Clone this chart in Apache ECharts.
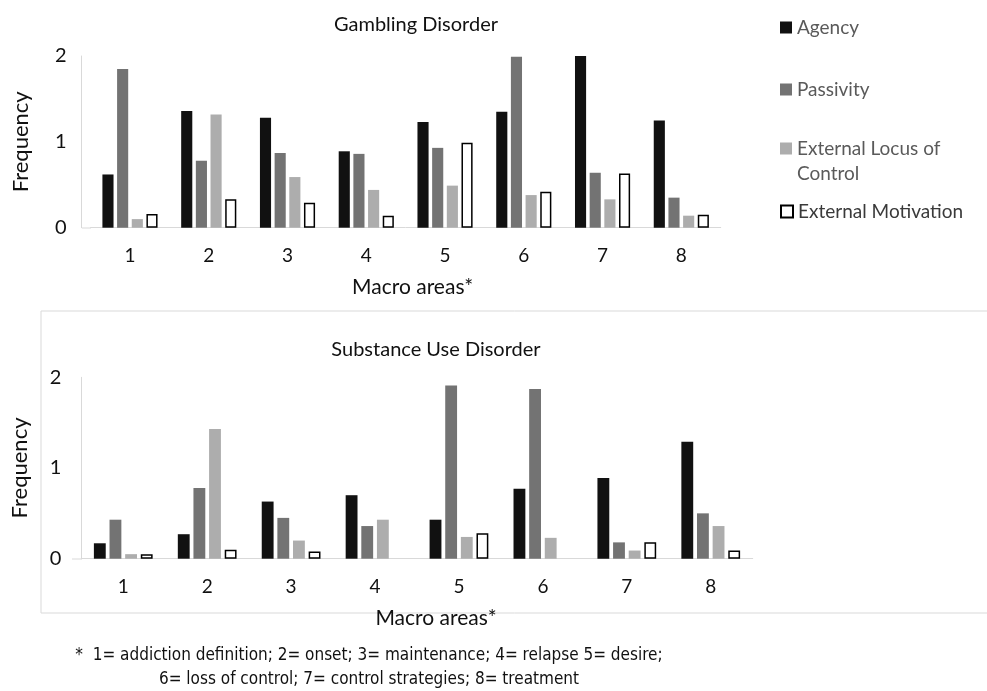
<!DOCTYPE html>
<html><head><meta charset="utf-8">
<script src="https://cdn.jsdelivr.net/npm/echarts@6/dist/echarts.min.js"></script>
<style>html,body{margin:0;padding:0;background:#fff}#c{width:987px;height:691px}</style>
</head><body><div id="c"></div>
<script>
const categories = ['1','2','3','4','5','6','7','8'];
const seriesNames = ['Agency','Passivity','External Locus of Control','External Motivation'];
// Gambling Disorder
const gdAgency    = [0.62, 1.36, 1.28, 0.89, 1.23, 1.35, 2.00, 1.25];
const gdPassivity = [1.85, 0.78, 0.87, 0.86, 0.93, 1.99, 0.64, 0.35];
const gdExtLocus  = [0.10, 1.32, 0.59, 0.44, 0.49, 0.38, 0.33, 0.14];
const gdExtMotiv  = [0.16, 0.33, 0.29, 0.14, 0.99, 0.42, 0.63, 0.15];
// Substance Use Disorder (null = no bar drawn)
const sudAgency    = [0.17, 0.27, 0.63, 0.70, 0.43, 0.77, 0.89, 1.29];
const sudPassivity = [0.43, 0.78, 0.45, 0.36, 1.91, 1.87, 0.18, 0.50];
const sudExtLocus  = [0.05, 1.43, 0.20, 0.43, 0.24, 0.23, 0.09, 0.36];
const sudExtMotiv  = [0.05, 0.10, 0.08, null, 0.28, null, 0.18, 0.09];
const yTicks = [0, 1, 2];

const FONT = 'Lato';
const styles = [
  {color:'#111111'},
  {color:'#737373'},
  {color:'#adadad'},
  {color:'#ffffff', borderColor:'#000000', borderWidth:1.5}
];
const axisGray = '#d9d9d9';

function xAx(gi, nameOffset){
  return {
    type:'category', gridIndex:gi, data:categories,
    axisLine:{show:true, lineStyle:{color:axisGray, width:1}},
    axisTick:{show:false},
    axisLabel:{fontFamily:FONT, fontSize:19, color:'#111', margin:19},
    name:'Macro areas*', nameLocation:'middle', nameGap:49,
    nameTextStyle:{fontFamily:FONT, fontSize:21, color:'#111', padding:[0,0,0,nameOffset]}
  };
}
function yAx(gi, offset, margin){
  return {
    type:'value', gridIndex:gi, min:0, max:2, interval:1, offset:offset,
    axisLine:{show:true, lineStyle:{color:axisGray, width:1}},
    axisTick:{show:false}, splitLine:{show:false},
    axisLabel:{fontFamily:FONT, fontSize:20, color:'#111', margin:margin,
      formatter: v => yTicks.includes(v) ? String(v) : ''},
    name:'Frequency', nameLocation:'middle', nameGap:50,
    nameTextStyle:{fontFamily:FONT, fontSize:22, color:'#111'}
  };
}
function mkSeries(data, si, gi){
  return {
    name: seriesNames[si], type:'bar', xAxisIndex:gi, yAxisIndex:gi, data:data,
    barGap:'32%', barCategoryGap:'30%', itemStyle:styles[si], animation:false,
    emphasis:{disabled:true}
  };
}
const legendBase = {
  orient:'vertical', left:775, itemWidth:12, itemHeight:12,
  textStyle:{fontFamily:FONT, fontSize:19, color:'#5a5a5a'}, selectedMode:false
};
const chart = echarts.init(document.getElementById('c'), null, {renderer:'canvas'});
chart.setOption({
  backgroundColor:'#fff',
  animation:false,
  title:[
    {text:'Gambling Disorder', left:411, top:10, textAlign:'center',
      textStyle:{fontFamily:FONT, fontSize:20, fontWeight:'normal', color:'#111'}},
    {text:'Substance Use Disorder', left:431, top:335, textAlign:'center',
      textStyle:{fontFamily:FONT, fontSize:20, fontWeight:'normal', color:'#111'}}
  ],
  legend:[
    Object.assign({}, legendBase, {top:13, data:[{name:'Agency', icon:'rect'}]}),
    Object.assign({}, legendBase, {top:75, data:[{name:'Passivity', icon:'rect'}]}),
    Object.assign({}, legendBase, {top:131, itemHeight:37,
      data:[{name:'External Locus of Control', icon:'path://M0,0L12,0L12,12L0,12Z M0,37L0.01,37L0.01,37.01Z'}],
      formatter: n => 'External Locus of\nControl',
      textStyle:{fontFamily:FONT, fontSize:19, color:'#5a5a5a', lineHeight:25}}),
    Object.assign({}, legendBase, {top:197, data:[{name:'External Motivation', icon:'rect'}],
      textStyle:{fontFamily:FONT, fontSize:19, color:'#3a3a3a'}})
  ],
  grid:[
    {left:90.6, right:266.3, top:56, bottom:463.3},
    {left:81.3, right:234.3, top:377.3, bottom:132.3}
  ],
  xAxis:[xAx(0, 14), xAx(1, 38)],
  yAxis:[yAx(0, 9, 15), yAx(1, 0, 20)],
  series:[
    mkSeries(gdAgency,0,0), mkSeries(gdPassivity,1,0), mkSeries(gdExtLocus,2,0), mkSeries(gdExtMotiv,3,0),
    mkSeries(sudAgency,0,1), mkSeries(sudPassivity,1,1), mkSeries(sudExtLocus,2,1), mkSeries(sudExtMotiv,3,1)
  ],
  graphic:[
    {type:'rect', silent:true, z:-1, shape:{x:41, y:311, width:960, height:302},
      style:{fill:'none', stroke:axisGray, lineWidth:1}},
    {type:'line', silent:true, z:-1, shape:{x1:82, y1:228, x2:91, y2:228},
      style:{stroke:axisGray, lineWidth:1}},
    {type:'line', silent:true, z:-1, shape:{x1:72, y1:559, x2:82, y2:559},
      style:{stroke:axisGray, lineWidth:1}},
    {type:'text', silent:true, x:369, y:644,
      style:{text:'*  1= addiction definition; 2= onset; 3= maintenance; 4= relapse 5= desire;\n6= loss of control; 7= control strategies; 8= treatment',
        fontFamily:'DejaVu Sans Condensed', fontSize:17, lineHeight:24, fill:'#111', align:'center', verticalAlign:'top'}}
  ]
});
</script></body></html>
